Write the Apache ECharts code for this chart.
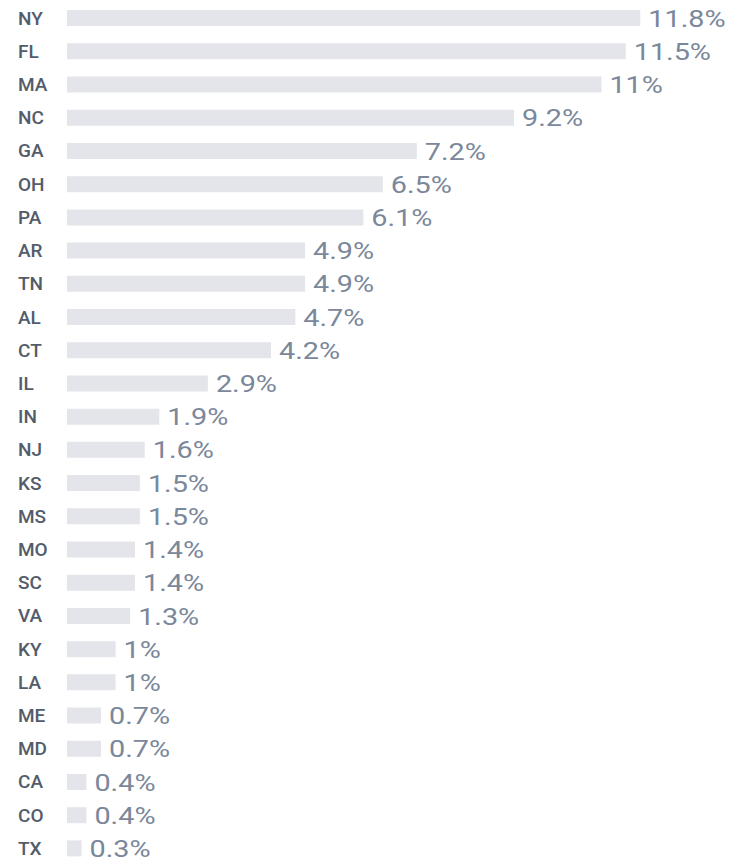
<!DOCTYPE html>
<html>
<head>
<meta charset="utf-8">
<script src="https://cdn.jsdelivr.net/npm/echarts@6/dist/echarts.min.js"></script>
<style>
  html, body { margin: 0; padding: 0; background: #fff; }
  #chart { width: 744px; height: 865px; }
</style>
</head>
<body>
<div id="chart"></div>
<script>
// state codes, top to bottom
const states = ['NY', 'FL', 'MA', 'NC', 'GA', 'OH', 'PA', 'AR', 'TN', 'AL', 'CT', 'IL', 'IN',
  'NJ', 'KS', 'MS', 'MO', 'SC', 'VA', 'KY', 'LA', 'ME', 'MD', 'CA', 'CO', 'TX']
// share in percent
const shares = [11.8, 11.5, 11, 9.2, 7.2, 6.5, 6.1, 4.9, 4.9, 4.7, 4.2, 2.9, 1.9,
  1.6, 1.5, 1.5, 1.4, 1.4, 1.3, 1, 1, 0.7, 0.7, 0.4, 0.4, 0.3]

const chart = echarts.init(document.getElementById('chart'), null, { renderer: 'svg' })
chart.setOption({
  animation: false,
  grid: {
    left: 67,
    top: 1.5,
    width: 583,
    height: 867
  },
  xAxis: {
    type: 'value',
    min: 0,
    max: 12,
    show: false
  },
  yAxis: {
    type: 'category',
    data: states,
    inverse: true,
    axisLine: { show: false },
    axisTick: { show: false },
    axisLabel: {
      margin: 49,
      align: 'left',
      color: '#535c6a',
      fontFamily: 'Roboto',
      fontWeight: 500,
      fontSize: 19
    }
  },
  series: [
    {
      type: 'bar',
      data: shares,
      barWidth: 16,
      itemStyle: { color: '#e4e5ea' },
      label: {
        show: true,
        position: 'right',
        distance: 8,
        color: '#7b879a',
        fontFamily: 'Roboto',
        fontSize: 24,
        formatter: (p) => p.value + '%'
      }
    }
  ]
})

// the original lettering of the values is drawn a little wide:
// stretch each value label sideways around its left edge
document.querySelectorAll('#chart text').forEach((t) => {
  if (t.textContent.endsWith('%')) {
    const x = parseFloat(t.getAttribute('x') || 0)
    const tf = t.getAttribute('transform') || ''
    t.setAttribute('transform', tf + ` translate(${x},0) scale(1.2,1) translate(${-x},0)`)
  }
})
</script>
</body>
</html>
